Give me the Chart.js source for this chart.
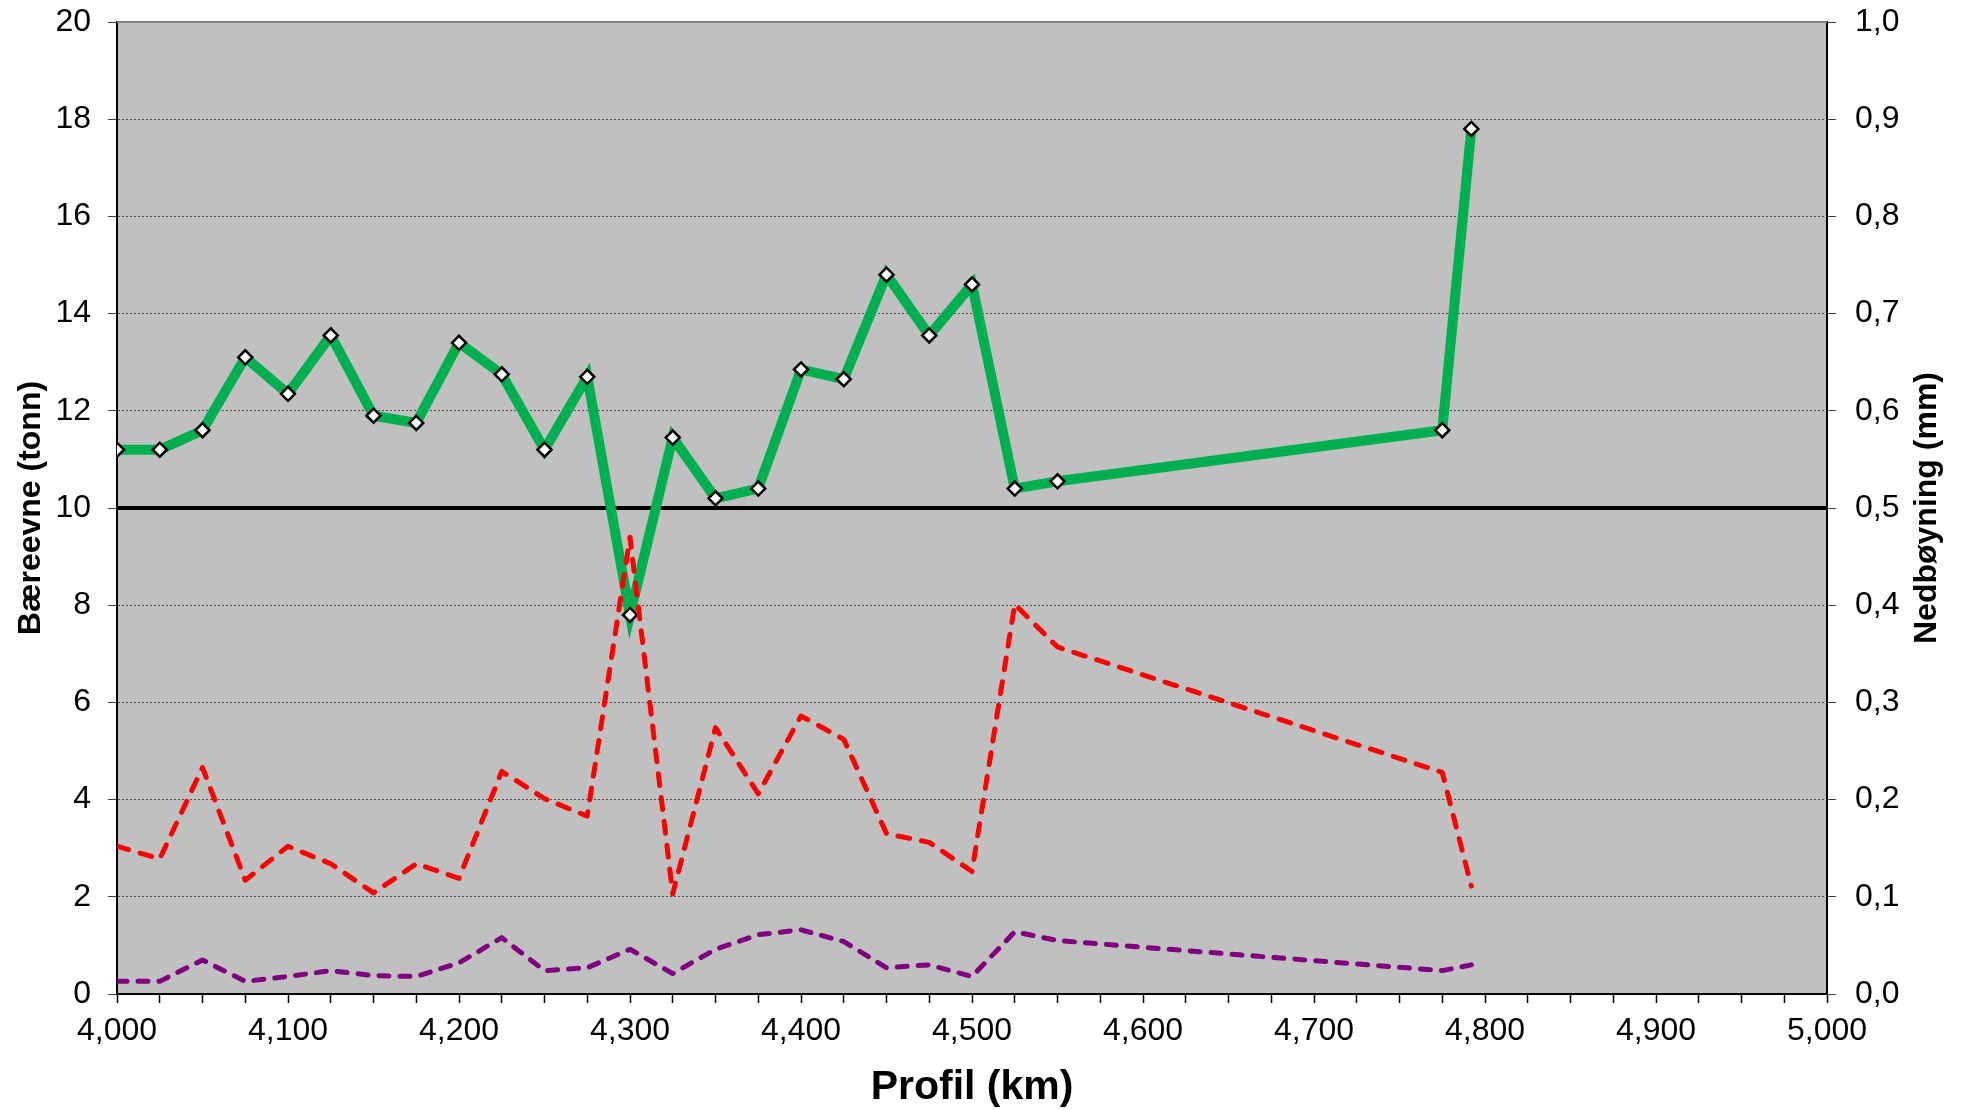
<!DOCTYPE html>
<html>
<head>
<meta charset="utf-8">
<script src="https://cdn.jsdelivr.net/npm/chart.js@4/dist/chart.umd.min.js"></script>
<style>
  body { margin: 0; background: #fff; }
  #wrap { width: 1966px; height: 1110px; }
</style>
</head>
<body>
<div id="wrap"><canvas id="profilChart" width="1966" height="1110"></canvas></div>
<script>
// Data
const profilKm   = [4000, 4025, 4050, 4075, 4100, 4125, 4150, 4175, 4200, 4225, 4250, 4275, 4300,
                    4325, 4350, 4375, 4400, 4425, 4450, 4475, 4500, 4525, 4550, 4775, 4792];
const baereevne  = [11.2, 11.2, 11.6, 13.1, 12.35, 13.55, 11.9, 11.75, 13.4, 12.75, 11.2, 12.7, 7.8,
                    11.45, 10.2, 10.4, 12.85, 12.65, 14.8, 13.55, 14.6, 10.4, 10.55, 11.6, 17.8];
const nedboyning = [0.152, 0.139, 0.233, 0.117, 0.152, 0.134, 0.104, 0.134, 0.119, 0.229, 0.201, 0.183, 0.470,
                    0.103, 0.274, 0.206, 0.286, 0.262, 0.165, 0.156, 0.126, 0.401, 0.357, 0.228, 0.111];
const nedboyning2 = [0.013, 0.013, 0.035, 0.013, 0.018, 0.024, 0.019, 0.018, 0.032, 0.058, 0.024, 0.027, 0.046,
                     0.021, 0.046, 0.061, 0.066, 0.054, 0.027, 0.030, 0.018, 0.064, 0.055, 0.024, 0.030];
const kravKm     = [4000, 5000];
const krav       = [10, 10];

const FONT = "'Liberation Sans', Arial, sans-serif";

function points(xs, ys) {
    return xs.map(function (x, i) { return { x: x, y: ys[i] }; });
}

// Grey plot area + top border + right axis title
const plotBg = {
    id: 'plotBg',
    beforeDraw: function (chart) {
        const a = chart.chartArea, c = chart.ctx;
        c.save();
        c.fillStyle = '#C0C0C0';
        c.fillRect(a.left, a.top, a.right - a.left, a.bottom - a.top);
        c.restore();
    },
    afterDraw: function (chart) {
        const a = chart.chartArea, c = chart.ctx;
        c.save();
        c.strokeStyle = '#808080';
        c.lineWidth = 2;
        c.beginPath();
        c.moveTo(a.left, a.top);
        c.lineTo(a.right, a.top);
        c.stroke();
        // right title reads bottom-to-top
        c.translate(1927, (a.top + a.bottom) / 2);
        c.rotate(-Math.PI / 2);
        c.fillStyle = '#000';
        c.font = 'bold 32px ' + FONT;
        c.textAlign = 'center';
        c.textBaseline = 'middle';
        c.fillText('Nedbøyning (mm)', 0, 0);
        c.restore();
    }
};

function fitY(w) {
    return function (s) { s.width = w; s.paddingTop = 0; s.paddingBottom = 0; };
}

const ctx = document.getElementById('profilChart').getContext('2d');
const profilChart = new Chart(ctx, {
    type: 'line',
    data: {
        datasets: [
            {
                data: points(profilKm, nedboyning),
                yAxisID: 'y1',
                borderColor: '#FF0000',
                borderWidth: 5,
                borderDash: [12, 12],
                borderCapStyle: 'round',
                borderJoinStyle: 'round',
                pointRadius: 0,
                order: 0
            },
            {
                data: points(profilKm, baereevne),
                yAxisID: 'y',
                borderColor: '#00B050',
                borderWidth: 10,
                pointStyle: 'rectRot',
                pointRadius: 7,
                pointBackgroundColor: '#FFFFFF',
                pointBorderColor: '#000000',
                pointBorderWidth: 2.5,
                order: 1
            },
            {
                data: points(profilKm, nedboyning2),
                yAxisID: 'y1',
                borderColor: '#800080',
                borderWidth: 5,
                borderDash: [10, 11],
                borderCapStyle: 'round',
                borderJoinStyle: 'round',
                pointRadius: 0,
                order: 2
            },
            {
                data: points(kravKm, krav),
                yAxisID: 'y',
                borderColor: '#000000',
                borderWidth: 4,
                pointRadius: 0,
                order: 3
            }
        ]
    },
    options: {
        responsive: false,
        animation: false,
        devicePixelRatio: 1,
        layout: { padding: { top: 22, left: 0, right: 0, bottom: 0 } },
        plugins: { legend: { display: false }, tooltip: { enabled: false } },
        scales: {
            x: {
                type: 'linear',
                min: 4000,
                max: 5000,
                afterFit: function (s) { s.height = 116; s.paddingLeft = 0; s.paddingRight = 0; },
                ticks: {
                    stepSize: 25,
                    autoSkip: false,
                    maxRotation: 0,
                    padding: 9,
                    color: '#000',
                    font: { family: FONT, size: 32 },
                    callback: function (v) { return v % 100 === 0 ? v.toLocaleString('en-US') : ''; }
                },
                grid: { drawOnChartArea: false, tickLength: 9, tickColor: '#000', tickWidth: 1.5 },
                border: { color: '#000', width: 2 },
                title: {
                    display: true,
                    text: 'Profil (km)',
                    color: '#000',
                    font: { family: FONT, size: 41, weight: 'bold' },
                    padding: { top: 0, bottom: -2 }
                }
            },
            y: {
                position: 'left',
                min: 0,
                max: 20,
                afterFit: fitY(117),
                ticks: {
                    stepSize: 2,
                    padding: 17,
                    color: '#000',
                    font: { family: FONT, size: 32 }
                },
                grid: {
                    color: '#505050',
                    lineWidth: 1,
                    tickLength: 9,
                    tickColor: '#404040',
                    tickBorderDash: []
                },
                border: { color: '#000', width: 2, dash: [2, 2] },
                title: {
                    display: true,
                    text: 'Bæreevne (tonn)',
                    color: '#000',
                    font: { family: FONT, size: 32, weight: 'bold' },
                    padding: { top: 12, bottom: 0 }
                }
            },
            y1: {
                position: 'right',
                min: 0,
                max: 1,
                afterFit: fitY(139),
                ticks: {
                    stepSize: 0.1,
                    padding: 19,
                    color: '#000',
                    font: { family: FONT, size: 32 },
                    callback: function (v) { return v.toFixed(1).replace('.', ','); }
                },
                grid: { drawOnChartArea: false, tickLength: 9, tickColor: '#404040' },
                border: { color: '#000', width: 2 }
            }
        }
    },
    plugins: [plotBg]
});
</script>
</body>
</html>
